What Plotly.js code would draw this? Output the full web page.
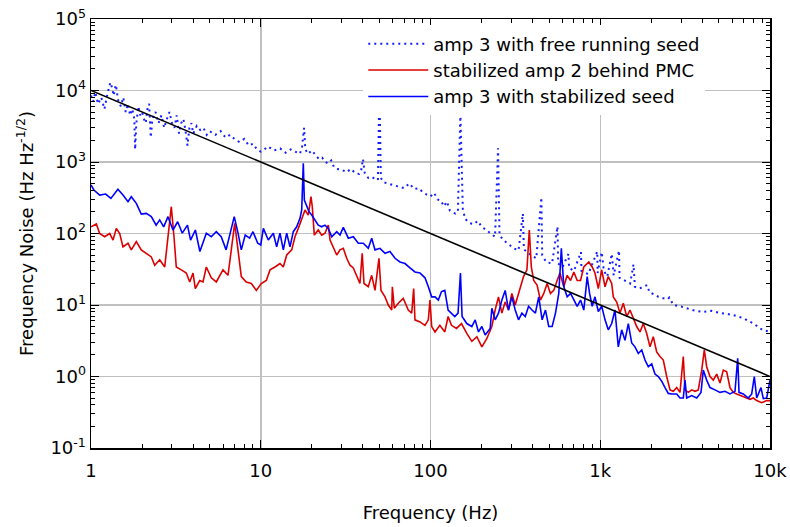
<!DOCTYPE html>
<html>
<head>
<meta charset="utf-8">
<script src="https://cdn.plot.ly/plotly-3.0.1.min.js"></script>
<style>html,body{margin:0;padding:0;background:#fff;}#chart{width:790px;height:527px;}</style>
</head>
<body>
<div id="chart"></div>
<script>
// amp 3 with free running seed (Hz, Hz/sqrt(Hz))
const freeRunning = [
[1.0,8500],[1.03,7000],[1.06,9500],[1.1,6500],[1.15,8000],[1.2,5500],[1.25,9000],[1.3,13000],[1.33,11000],[1.36,8500],
[1.4,12000],[1.45,7000],[1.5,6000],[1.55,8000],[1.6,5000],[1.65,6500],[1.7,4500],[1.75,5500],[1.8,4000],[1.82,1500],
[1.85,3500],[1.9,6000],[1.95,4500],[2.0,5000],[2.05,4000],[2.1,3500],[2.15,5500],[2.2,6500],[2.25,2200],[2.3,4000],
[2.4,5000],[2.5,3500],[2.6,4500],[2.7,3000],[2.8,4000],[2.9,5000],[3.0,3500],[3.1,3000],[3.2,4500],[3.3,2500],
[3.4,3500],[3.5,4000],[3.6,2800],[3.7,1700],[3.8,3000],[3.9,3500],[4.0,2500],[4.2,3200],[4.4,2800],[4.6,3000],
[4.8,2400],[5.0,2700],[5.4,2400],[5.8,2700],[6.2,2200],[6.6,2400],[7.0,2100],[7.5,1900],[8.0,2100],[8.5,1700],
[9.0,1800],[9.5,1500],[10,1400],[10.5,1500],[11,1650],[12,1450],[13,1550],[14,1350],[15,1500],[16,1400],
[17,1300],[17.5,1600],[18,3000],[18.3,1500],[19,1300],[20,1450],[21,1250],[22,1100],[23,1150],[24,1000],
[25,950],[26,1050],[27,850],[28,800],[30,780],[32,720],[34,800],[36,700],[38,680],[39,750],
[40,1100],[41,700],[43,600],[45,620],[47,580],[49,560],[50,10500],[51,600],[53,520],[56,500],
[60,480],[65,450],[70,430],[75,500],[80,420],[85,430],[90,380],[95,350],[100,330],[105,370],
[110,300],[115,290],[120,240],[125,280],[130,210],[140,190],[145,200],[150,4800],[155,220],[160,160],
[170,140],[180,135],[190,150],[200,125],[210,115],[220,105],[240,90],[250,1550],[255,95],[270,80],
[290,70],[310,62],[330,58],[350,190],[355,60],[380,52],[400,48],[420,45],[450,320],[455,50],
[480,40],[520,38],[560,125],[565,38],[600,34],[650,52],[655,33],[700,30],[770,55],[775,30],
[850,27],[960,56],[965,28],[1020,55],[1050,30],[1100,25],[1170,52],[1200,26],[1290,58],[1300,24],
[1400,22],[1500,20],[1570,37],[1600,18],[1700,17],[1890,19],[1950,15],[2100,14],[2200,13],[2500,12],
[2550,12.7],[2700,10],[3000,9.5],[3500,8.5],[4000,8],[4500,8.3],[5000,7.8],[5500,7.5],[6000,7.3],[7000,6.5],
[8000,5.5],[9000,4.5],[10000,4.2]
];

// stabilized amp 2 behind PMC
const stabilizedAmp2 = [
[1.0,124],[1.075,136],[1.125,100],[1.204,90],[1.289,100],[1.348,81],[1.41,118],[1.476,100],[1.543,65],[1.652,73],
[1.727,59],[1.849,77],[1.978,59],[2.117,53],[2.266,47],[2.373,36],[2.54,43],[2.718,34],[2.842,90],[2.972,237],
[3.083,90],[3.18,34],[3.404,31],[3.643,28],[3.815,21],[3.99,28],[4.116,17],[4.37,22],[4.57,21],[4.778,34],
[5.113,24],[5.472,21],[5.992,31],[6.413,26],[6.706,59],[7.022,139],[7.345,59],[7.68,25],[8.219,21],[8.797,20],
[9.415,16],[10.07,20],[10.78,22],[11.34,31],[12.13,34],[12.98,38],[13.58,34],[14.22,50],[15.22,59],[15.91,90],
[16.64,118],[17.43,163],[18.23,213],[19.06,181],[19.77,327],[20.12,237],[20.68,95],[21.83,112],[22.86,95],[23.9,101],
[25.0,131],[25.6,81],[26.76,65],[28.03,50],[29.3,59],[30.64,62],[32.09,45],[33.56,36],[35.1,33],[36.75,25],
[38.4,20],[39.6,53],[40.57,20],[43.0,18],[45.04,26],[47.1,16],[49.7,45],[51.1,16],[53.95,13],[56.4,10],
[59.1,8.5],[59.6,18],[61.2,9],[64.6,10.6],[69.1,12.4],[74.0,8.5],[77.5,7.7],[79.6,17],[81.0,6.2],[86.7,5.8],
[92.8,5.2],[97.1,6.2],[99.3,11.7],[101.6,5],[106.3,4.2],[113.5,5.2],[121.4,4.2],[127.0,6.9],[132.9,5.2],[142.2,4.7],
[152.3,5.5],[163.6,4],[175.2,3.1],[187.6,3.6],[200.7,2.6],[214.8,3.4],[229.8,5],[240.4,8.5],[251.5,13],[263.2,7.7],
[275.4,11],[288.1,8.5],[301.5,14.5],[315.5,10],[337.7,17],[353.2,25],[369.8,31],[382,112],[392.6,34],[405.5,22],
[424.4,19],[444.2,11.7],[464.8,14.5],[486.6,20],[508.9,14.5],[532.3,16],[557.4,22],[579,28],[610,18],[638.5,26],
[668.5,22],[699,29],[731.4,22],[765.3,22],[800,34],[856,40],[896.5,34],[931,28],[974,17],[1020,31],
[1067,18],[1115,25],[1168,20],[1194,13],[1250,11],[1307,7.7],[1367,10.6],[1432,6.9],[1497,8.5],[1565,6.5],
[1639,5],[1715,4.2],[1793,5.5],[1878,4],[1964,2.6],[2053,3.6],[2150,2.2],[2249,1.9],[2352,1.7],[2463,1.0],
[2576,0.65],[2694,0.62],[2821,0.70],[2950,0.6],[3085,1.9],[3157,0.65],[3302,0.6],[3457,0.65],[3616,0.62],[3781,0.65],
[3960,1.23],[4102,2.35],[4236,1.37],[4431,1.0],[4634,0.89],[4853,1.08],[5075,0.81],[5308,1.23],[5558,1.16],[5812,0.7],
[6078,0.6],[6365,0.57],[6812,0.54],[7291,0.5],[7625,0.48],[7973,0.5],[8349,0.46],[8934,0.43],[9561,0.46],[10000,0.46]
];

// amp 3 with stabilized seed
const stabilizedSeed = [
[1.0,477],[1.04,406],[1.125,345],[1.22,356],[1.31,310],[1.44,415],[1.543,345],[1.652,279],[1.727,327],[1.849,264],
[1.978,187],[2.117,191],[2.266,172],[2.42,131],[2.54,155],[2.68,124],[2.842,172],[3.04,112],[3.24,146],[3.45,101],
[3.70,131],[3.86,81],[4.12,112],[4.38,56],[4.78,101],[5.11,90],[5.47,106],[5.85,90],[6.25,59],[6.63,101],
[6.98,172],[7.35,101],[7.68,59],[8.1,95],[8.6,86],[9.0,106],[9.6,73],[10.0,69],[10.36,118],[11.08,81],
[11.86,101],[12.41,65],[12.98,101],[13.58,59],[14.22,101],[14.87,65],[15.55,106],[16.28,124],[17.03,163],[17.43,213],
[17.81,960],[18.06,294],[18.65,237],[19.24,202],[19.96,181],[20.87,155],[21.83,131],[22.86,124],[23.9,131],[25.0,118],
[26.2,90],[28.03,106],[29.3,95],[30.64,122],[32.8,86],[35.1,90],[37.56,73],[40.2,73],[43.0,62],[45.04,86],
[47.1,59],[50.4,62],[53.95,53],[57.7,56],[61.8,45],[66.1,40],[70.75,38],[75.7,33],[81.0,29],[86.7,28],
[92.8,24],[97.1,18],[101.6,13],[106.3,13],[111.2,11.7],[116.1,15.4],[121.4,16],[127.0,8.5],[132.9,7.7],[139,6.9],
[145.3,7.7],[150.1,28],[153.5,6.9],[163.6,5.5],[175.2,5],[183.3,6.2],[191.8,4.2],[200.7,5],[209.9,3.8],[224.7,4.7],
[229.8,9],[240.4,6.2],[251.5,7.7],[263.2,11.7],[275.4,16],[288.1,8.5],[301.5,13],[315.5,8.5],[330.1,6.2],[345.5,7.7],
[361.5,6.9],[378.3,9.6],[396.4,8.5],[414.8,7.7],[434.1,13],[454.5,6.2],[475.6,8.5],[497.4,5],[520.7,5],[544.8,7.7],
[569.8,14.5],[590,62],[610,18],[638.5,13],[668.5,14.5],[699,11.7],[731.4,9.6],[765.3,11.7],[800,8.5],[837.4,25],
[865.5,14.5],[896.5,9.6],[931,13],[974,8.1],[1020,9.6],[1067,6.2],[1115,4.5],[1168,5.5],[1221,8.5],[1277,2.6],
[1338,4.5],[1399,3.2],[1463,5.5],[1532,2.95],[1602,2.6],[1676,2.1],[1755,2.35],[1835,1.7],[1919,1.37],[2010,1.5],
[2101,1.08],[2198,1.0],[2301,0.86],[2407,0.70],[2517,0.58],[2636,0.57],[2821,0.57],[2950,0.5],[3085,0.5],[3157,0.89],
[3231,0.5],[3457,0.54],[3700,0.5],[3922,0.6],[4046,1.23],[4236,0.89],[4431,0.7],[4742,0.65],[5075,0.6],[5432,0.62],
[5812,0.57],[6220,0.62],[6452,1.8],[6568,0.6],[6961,0.57],[7451,0.5],[7802,0.57],[8082,1.0],[8349,0.5],[8850,0.7],
[9131,0.49],[9561,0.5],[10000,0.89]
];

// reference slope line (black)
const refX = [1, 10000];
const refY = [10000, 1];

// axis ticks
const xTickVals = [1, 10, 100, 1000, 10000];
const xTickText = ['1', '10', '100', '1k', '10k'];
const yTickVals = [0.1, 1, 10, 100, 1000, 10000, 100000];
const yTickText = ['10<sup>-1</sup>', '10<sup>0</sup>', '10<sup>1</sup>', '10<sup>2</sup>', '10<sup>3</sup>', '10<sup>4</sup>', '10<sup>5</sup>'];

function minorTicks(lo, hi) {
  const out = [];
  for (let e = lo; e < hi; e++) {
    for (let d = 2; d <= 9; d++) out.push(d * Math.pow(10, e));
  }
  return out;
}

const FONT = 'DejaVu Sans, sans-serif';
const xs = a => a.map(p => p[0]);
const ys = a => a.map(p => p[1]);

const traces = [
  {x: xs(freeRunning), y: ys(freeRunning), type: 'scatter', mode: 'lines',
   name: 'amp 3 with free running seed', line: {color: 'rgb(20,30,255)', width: 2, dash: '2px,4px'}},
  {x: xs(stabilizedAmp2), y: ys(stabilizedAmp2), type: 'scatter', mode: 'lines',
   name: 'stabilized amp 2 behind PMC', line: {color: 'rgb(220,0,0)', width: 1.6}},
  {x: xs(stabilizedSeed), y: ys(stabilizedSeed), type: 'scatter', mode: 'lines',
   name: 'amp 3 with stabilized seed', line: {color: 'rgb(0,0,255)', width: 1.6}},
  {x: refX, y: refY, type: 'scatter', mode: 'lines', showlegend: false,
   line: {color: 'black', width: 1.6}}
];

const majorAxis = {
  type: 'log', tickmode: 'array', showline: true, linecolor: 'black', linewidth: 1.5,
  mirror: 'allticks', ticks: 'inside', ticklen: 8, tickwidth: 1, tickcolor: 'black',
  showgrid: true, gridcolor: 'rgb(192,192,192)', gridwidth: 1.5, zeroline: false,
  tickfont: {family: FONT, size: 18, color: 'black'}
};
const minorSpec = {tickmode: 'array', ticks: 'inside', ticklen: 4, tickwidth: 1, tickcolor: 'black', showgrid: false};

const layout = {
  width: 790, height: 527,
  margin: {l: 91, r: 20, t: 19, b: 79},
  paper_bgcolor: 'white', plot_bgcolor: 'white',
  font: {family: FONT, size: 18, color: 'black'},
  showlegend: true,
  legend: {x: 0.401, y: 0.985, xanchor: 'left', yanchor: 'top', bgcolor: 'white',
           borderwidth: 0, itemwidth: 60, font: {family: FONT, size: 18, color: 'black'}, tracegroupgap: 0},
  xaxis: Object.assign({}, majorAxis, {
    range: [0, 4], tickvals: xTickVals, ticktext: xTickText, ticklabelstandoff: 6,
    minor: Object.assign({}, minorSpec, {tickvals: minorTicks(0, 4)}),
    title: {text: 'Frequency (Hz)', font: {family: FONT, size: 18, color: 'black'}, standoff: 26}
  }),
  yaxis: Object.assign({}, majorAxis, {
    range: [-1, 5], tickvals: yTickVals, ticktext: yTickText,
    minor: Object.assign({}, minorSpec, {tickvals: minorTicks(-1, 5)}),
    title: {text: 'Frequency Noise (Hz Hz<sup>-1/2</sup>)', font: {family: FONT, size: 18, color: 'black'}, standoff: 12}
  })
};

Plotly.newPlot('chart', traces, layout, {staticPlot: true, displayModeBar: false});
</script>
</body>
</html>
